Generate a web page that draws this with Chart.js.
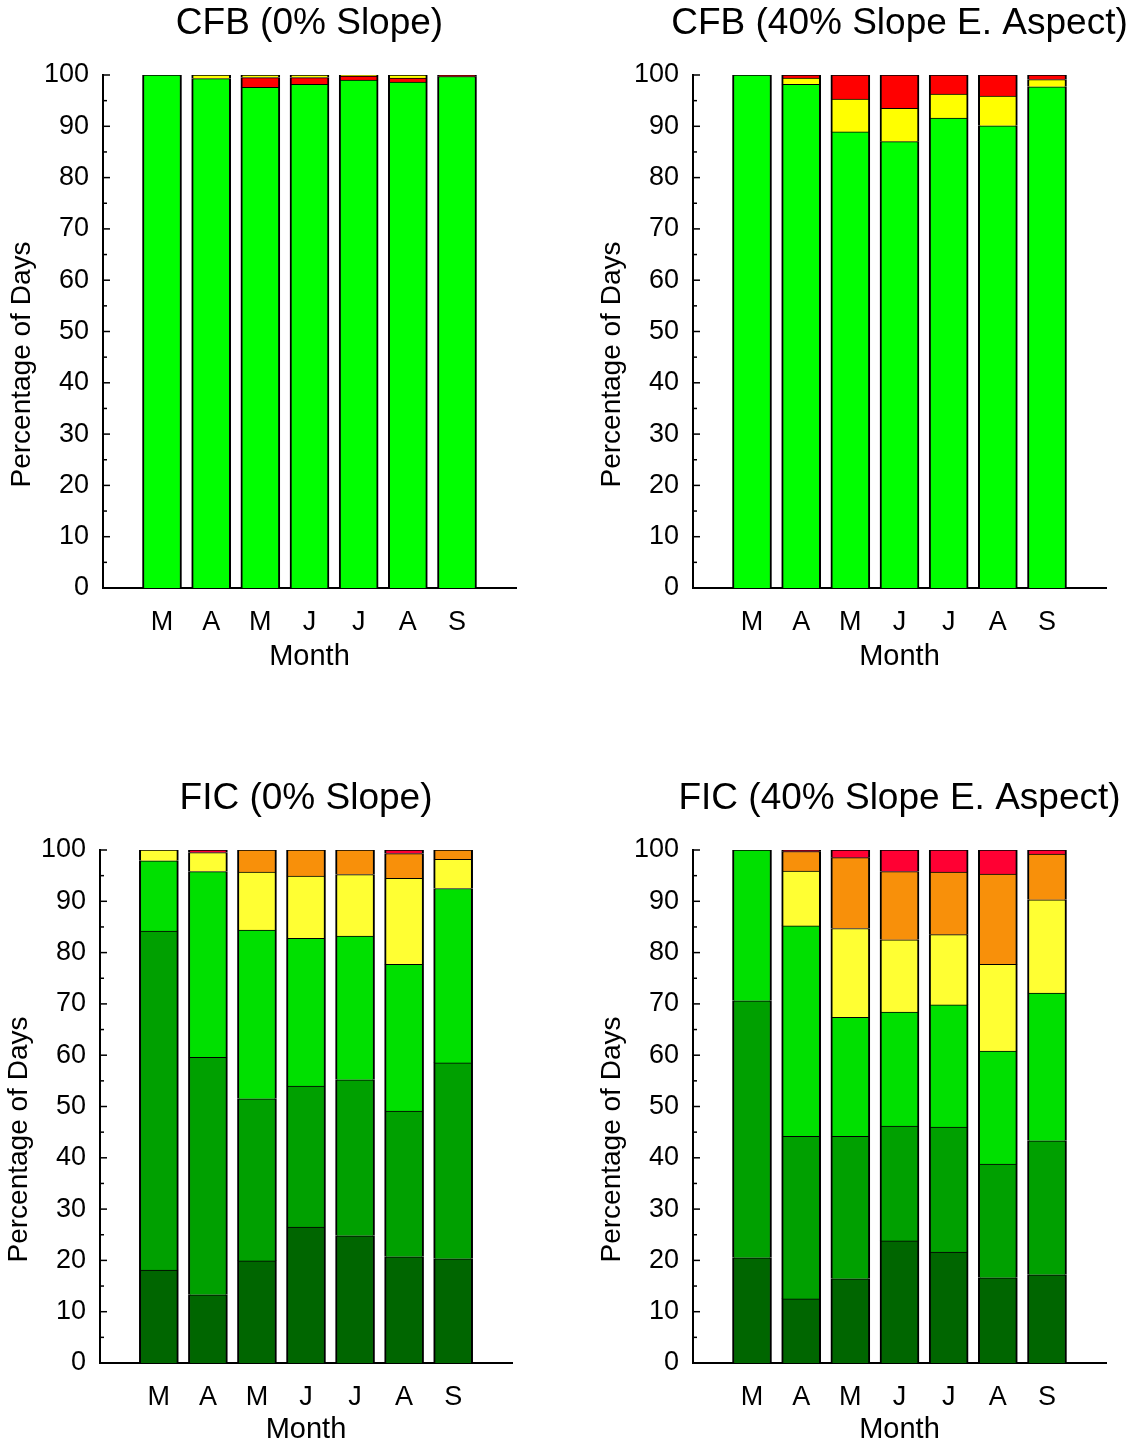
<!DOCTYPE html>
<html>
<head>
<meta charset="utf-8">
<script src="https://cdn.jsdelivr.net/npm/chart.js@4/dist/chart.umd.min.js"></script>
<style>
	body { margin: 0; background: #fff; overflow: hidden; }
	.panel { position: absolute; }
</style>
</head>
<body>
<canvas id="cfbFlat" class="panel"></canvas>
<canvas id="cfbSlope" class="panel"></canvas>
<canvas id="ficFlat" class="panel"></canvas>
<canvas id="ficSlope" class="panel"></canvas>
<script>
const months = ['M', 'A', 'M', 'J', 'J', 'A', 'S']
const yTicks = [0, 10, 20, 30, 40, 50, 60, 70, 80, 90, 100]

// CFB, 0% slope
const cfbFlatGreen = [100, 99.3, 97.6, 98.2, 99.0, 98.6, 99.7]
const cfbFlatRed = [0, 0, 1.9, 1.3, 0.8, 0.8, 0.3]
const cfbFlatYellow = [0, 0.7, 0.5, 0.5, 0.2, 0.6, 0]

// CFB, 40% slope E. aspect
const cfbSlopeGreen = [100, 98.2, 88.9, 87.0, 91.6, 90.1, 97.7]
const cfbSlopeYellow = [0, 1.2, 6.4, 6.5, 4.7, 5.8, 1.4]
const cfbSlopeRed = [0, 0.6, 4.7, 6.5, 3.7, 4.1, 0.9]

// FIC, 0% slope
const ficFlatDark = [18.1, 13.3, 19.9, 26.5, 24.8, 20.7, 20.3]
const ficFlatMid = [66.1, 46.3, 31.6, 27.5, 30.4, 28.4, 38.2]
const ficFlatLight = [13.7, 36.2, 32.9, 28.8, 28.0, 28.6, 34.0]
const ficFlatYellow = [2.1, 3.7, 11.3, 12.1, 12.0, 16.8, 5.7]
const ficFlatOrange = [0, 0, 4.3, 5.1, 4.8, 4.8, 1.8]
const ficFlatRed = [0, 0.5, 0, 0, 0, 0.7, 0]

// FIC, 40% slope E. aspect
const ficSlopeDark = [20.5, 12.5, 16.4, 23.8, 21.6, 16.6, 17.2]
const ficSlopeMid = [50.1, 31.7, 27.8, 22.4, 24.4, 22.2, 26.1]
const ficSlopeLight = [29.4, 41.0, 23.2, 22.2, 23.8, 22.0, 28.8]
const ficSlopeYellow = [0, 10.7, 17.3, 14.1, 13.7, 16.9, 18.2]
const ficSlopeOrange = [0, 3.8, 13.8, 13.3, 12.2, 17.6, 8.9]
const ficSlopeRed = [0, 0.3, 1.5, 4.2, 4.3, 4.7, 0.8]

const FONT = "'Liberation Sans', Arial, sans-serif"

// panel title over the plot and the y title, a bit below centre like the original
const panelText = {
	id: 'panelText',
	afterDraw(chart, args, opts) {
		const { ctx, chartArea } = chart
		const midY = (chartArea.top + chartArea.bottom) / 2
		ctx.save()
		ctx.fillStyle = '#000'
		ctx.textAlign = 'center'
		ctx.textBaseline = 'middle'
		ctx.font = `37px ${FONT}`
		ctx.fillText(opts.text, (chartArea.left + chartArea.right) / 2, chartArea.top - 51)
		ctx.translate(chartArea.left - 81, midY + 33)
		ctx.rotate(-Math.PI / 2)
		ctx.font = `28px ${FONT}`
		ctx.fillText('Percentage of Days', 0, 0)
		ctx.restore()
	}
}

// y ticks point into the plot, minor ones every 5
const innerTicks = {
	id: 'innerTicks',
	afterDraw(chart) {
		const { ctx, chartArea } = chart
		const y = chart.scales.y
		ctx.save()
		ctx.strokeStyle = '#000'
		ctx.lineWidth = 1.5
		for (let v = 5; v <= 100; v += 5) {
			const py = y.getPixelForValue(v)
			const len = v % 10 === 0 ? 7 : 4
			ctx.beginPath()
			ctx.moveTo(chartArea.left, py)
			ctx.lineTo(chartArea.left + len, py)
			ctx.stroke()
		}
		ctx.restore()
	}
}

function toPoints(values) {
	return values.map((v, i) => ({ x: i + 1, y: v }))
}

function makeSet(values, color) {
	return {
		data: toPoints(values),
		backgroundColor: color,
		borderColor: '#000',
		borderWidth: { top: 1, bottom: 0, left: 2, right: 2 },
		borderSkipped: false,
		barThickness: 39
	}
}

function renderPanel(id, box, title, datasets) {
	const canvas = document.getElementById(id)
	canvas.width = box.w
	canvas.height = box.h
	canvas.style.left = box.x + 'px'
	canvas.style.top = box.y + 'px'

	new Chart(canvas.getContext('2d'), {
		type: 'bar',
		data: { datasets },
		plugins: [panelText, innerTicks],
		options: {
			responsive: false,
			animation: false,
			layout: { padding: box.pad },
			plugins: {
				legend: { display: false },
				tooltip: { enabled: false },
				panelText: { text: title }
			},
			scales: {
				x: {
					type: 'linear',
					stacked: true,
					offset: false,
					min: -0.2,
					max: 8.2,
					grid: { display: false, drawTicks: false },
					border: { display: true, color: '#000', width: 2 },
					afterBuildTicks: scale => {
						scale.ticks = months.map((m, i) => ({ value: i + 1 }))
					},
					afterFit: scale => { scale.height = box.xh },
					ticks: {
						padding: 18,
						color: '#000',
						font: { family: FONT, size: 27 },
						callback: (val, i) => months[i]
					},
					title: {
						display: true,
						text: 'Month',
						color: '#000',
						padding: { top: 0, bottom: 0 },
						font: { family: FONT, size: 29 }
					}
				},
				y: {
					stacked: true,
					min: 0,
					max: 100,
					grid: { display: false, drawTicks: false },
					border: { display: true, color: '#000', width: 2 },
					afterBuildTicks: scale => {
						scale.ticks = yTicks.map(v => ({ value: v }))
					},
					afterFit: scale => { scale.width = 100 },
					ticks: {
						padding: 14,
						color: '#000',
						font: { family: FONT, size: 27 }
					}
				}
			}
		}
	})
}

renderPanel('cfbFlat', { x: 0, y: 0, w: 570, h: 700, xh: 86, pad: { left: 3, right: 54, top: 75, bottom: 26 } },
	'CFB (0% Slope)', [
		makeSet(cfbFlatGreen, '#00FF00'),
		makeSet(cfbFlatRed, '#FF0000'),
		makeSet(cfbFlatYellow, '#FFFF00')
	])

renderPanel('cfbSlope', { x: 580, y: 0, w: 553, h: 700, xh: 86, pad: { left: 13, right: 27, top: 75, bottom: 26 } },
	'CFB (40% Slope E. Aspect)', [
		makeSet(cfbSlopeGreen, '#00FF00'),
		makeSet(cfbSlopeYellow, '#FFFF00'),
		makeSet(cfbSlopeRed, '#FF0000')
	])

renderPanel('ficFlat', { x: 0, y: 760, w: 570, h: 690, xh: 84, pad: { left: 0, right: 58, top: 90, bottom: 3 } },
	'FIC (0% Slope)', [
		makeSet(ficFlatDark, '#006600'),
		makeSet(ficFlatMid, '#00A000'),
		makeSet(ficFlatLight, '#00E000'),
		makeSet(ficFlatYellow, '#FFFF33'),
		makeSet(ficFlatOrange, '#F8900A'),
		makeSet(ficFlatRed, '#FF0033')
	])

renderPanel('ficSlope', { x: 580, y: 760, w: 553, h: 690, xh: 84, pad: { left: 13, right: 27, top: 90, bottom: 3 } },
	'FIC (40% Slope E. Aspect)', [
		makeSet(ficSlopeDark, '#006600'),
		makeSet(ficSlopeMid, '#00A000'),
		makeSet(ficSlopeLight, '#00E000'),
		makeSet(ficSlopeYellow, '#FFFF33'),
		makeSet(ficSlopeOrange, '#F8900A'),
		makeSet(ficSlopeRed, '#FF0033')
	])
</script>
</body>
</html>
